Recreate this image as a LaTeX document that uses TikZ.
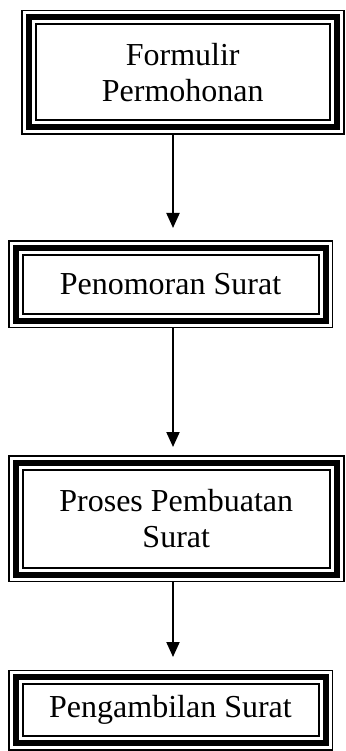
\documentclass[tikz,border=0pt]{standalone}
\usepackage{fontspec}
\setmainfont{Liberation Serif}
\usetikzlibrary{arrows.meta}

% thin-thick-thin frame drawn inside the bounds of a named node
\newcommand\tripleframe[1]{%
  \draw[line width=1.5pt] ([shift={(0.75pt,0.75pt)}]#1.south west) rectangle ([shift={(-0.75pt,-0.75pt)}]#1.north east);
  \draw[line width=6pt] ([shift={(7.5pt,7.5pt)}]#1.south west) rectangle ([shift={(-7.5pt,-7.5pt)}]#1.north east);
  \draw[line width=2pt] ([shift={(14.5pt,14.5pt)}]#1.south west) rectangle ([shift={(-14.5pt,-14.5pt)}]#1.north east);
}

\begin{document}
\begin{tikzpicture}[x=1pt,y=1pt,
  stepbox/.style={draw=none, inner sep=0pt, outer sep=0pt, align=center,
    font=\fontsize{32}{36}\selectfont},
  flow/.style={line width=2pt, -{Triangle[width=13pt,length=15pt]}}]
  \useasboundingbox (0,0) rectangle (345,-751);

  \node[stepbox, minimum width=323.5pt, minimum height=125pt] (b1) at (182.75,-72.5) {Formulir\\Permohonan};
  \node[stepbox, minimum width=325pt, minimum height=88pt] (b2) at (170.5,-284) {Penomoran Surat};
  \node[stepbox, minimum width=336.5pt, minimum height=127pt] (b3) at (176.25,-518.5) {Proses Pembuatan\\Surat};
  \node[stepbox, minimum width=325pt, minimum height=81pt] (b4) at (170.5,-710) {Pengambilan Surat};

  \tripleframe{b1}
  \tripleframe{b2}
  \tripleframe{b3}
  \tripleframe{b4}

  \coordinate (t1) at (173,-228);
  \coordinate (t2) at (173,-447);
  \coordinate (t3) at (173,-657);

  \draw[flow] (b1.south -| t1) -- (t1);
  \draw[flow] (b2.south -| t2) -- (t2);
  \draw[flow] (b3.south -| t3) -- (t3);
\end{tikzpicture}
\end{document}
